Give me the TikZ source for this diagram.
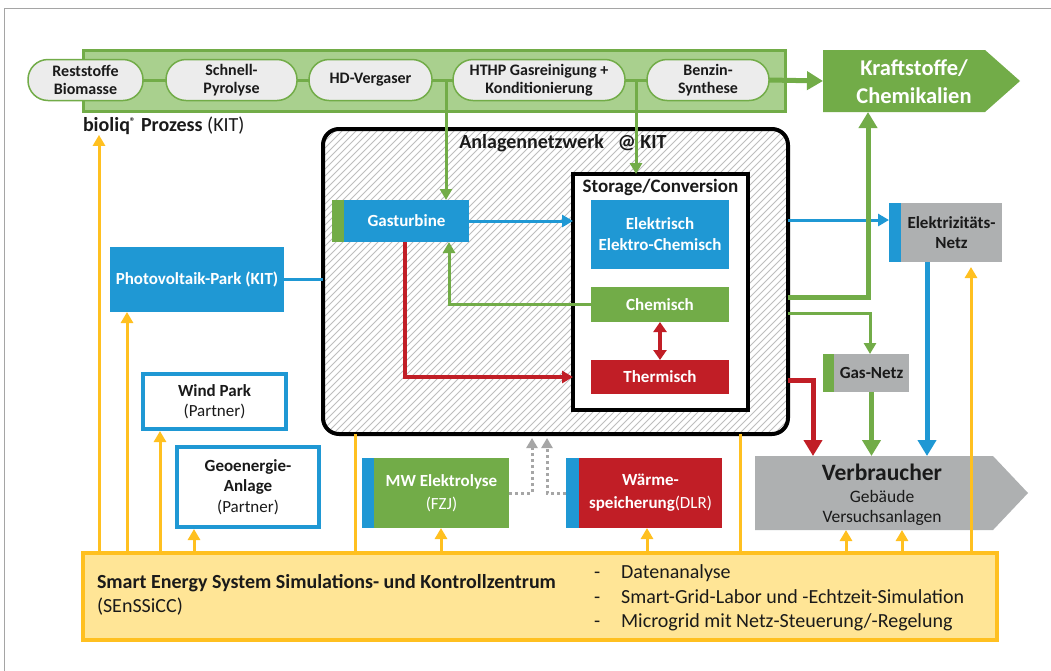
\documentclass[tikz,border=0pt]{standalone}
\usepackage{fontspec}
\setmainfont{Carlito}
\usetikzlibrary{arrows.meta,calc}
\definecolor{cblue}{RGB}{31,152,212}
\definecolor{cgreen}{RGB}{114,172,72}
\definecolor{clgreen}{RGB}{169,208,142}
\definecolor{cred}{RGB}{193,30,38}
\definecolor{cgray}{RGB}{174,176,177}
\definecolor{cyel}{RGB}{255,192,32}
\definecolor{cyelfill}{RGB}{255,229,150}
\definecolor{cpill}{RGB}{236,236,236}
\definecolor{ctext}{RGB}{26,26,26}
\definecolor{chatch}{RGB}{190,190,190}
\definecolor{cdot}{RGB}{166,166,166}
\definecolor{cframe}{RGB}{165,165,165}
\begin{document}
\begin{tikzpicture}[x=1pt,y=-1pt,
  every node/.style={inner sep=0pt, outer sep=0pt, text=ctext},
  pill/.style={draw=cgreen, line width=1.5pt, fill=cpill, rounded corners=20pt, minimum height=41pt, align=center, font=\fontsize{16}{18}\selectfont\bfseries},
  solidbox/.style={align=center, font=\fontsize{17}{21}\selectfont\bfseries, text=white},
  graybox/.style={align=center, font=\fontsize{17}{20}\selectfont\bfseries, fill=cgray},
  partner/.style={draw=cblue, fill=white, line width=3.5pt, align=center, font=\fontsize{17}{20.5}\selectfont},
  tip/.style={-{Triangle[width=12pt,length=11pt]}},
  bigtip/.style={-{Triangle[width=18pt,length=16pt]}},
  barrow/.style={draw=cblue, line width=3pt, tip},
  garrow/.style={draw=cgreen, line width=3pt, tip},
  rarrow/.style={draw=cred, line width=3.5pt, tip},
  barrowthick/.style={draw=cblue, line width=5pt, bigtip},
  garrowthick/.style={draw=cgreen, line width=5pt, bigtip},
  rarrowthick/.style={draw=cred, line width=5pt, bigtip},
  yarr/.style={draw=cyel, line width=3pt, tip},
  yline/.style={draw=cyel, line width=3pt},
  dotarr/.style={draw=cdot, line width=3pt, dash pattern=on 3pt off 3pt, -{Triangle[width=11pt,length=10pt]}},
]
\useasboundingbox (0,0) rectangle (1051,670);
\fill[white] (0,0) rectangle (1051,670);
\draw[cframe, line width=1pt] (4,690) -- (4,8) -- (1070,8);

% bioliq band
\node[draw=cgreen, fill=clgreen, line width=3pt, minimum width=702, minimum height=61] (band) at (434,80.5) {};
\coordinate (j1) at (446,80);
\coordinate (j2) at (636,80);
\node[pill, minimum width=115] (p1) at (85.5,80) {Reststoffe\\Biomasse};
\node[pill, minimum width=131] (p2) at (231.5,80) {Schnell-\\Pyrolyse};
\node[pill, minimum width=123] (p3) at (370.5,80) {HD-Vergaser};
\node[pill, minimum width=172] (p4) at (539,80) {HTHP Gasreinigung +\\Konditionierung};
\node[pill, minimum width=122] (p5) at (708,80) {Benzin-\\Synthese};
\draw[cgreen, line width=3pt] (p1.east) -- (p2.west) (p2.east) -- (p3.west) (p3.east) -- (p4.west) (p4.east) -- (p5.west);
\node[anchor=west, font=\fontsize{20}{22}\selectfont\bfseries] (bioliq) at (83,126) {bioliq\raisebox{6pt}{\fontsize{11}{11}\selectfont ®}\hspace{1pt} Prozess \mdseries(KIT)};

% Kraftstoffe
\node[minimum width=162, minimum height=62] (kraft) at (904,81) {};
\fill[cgreen] (kraft.north west) -- (kraft.north east) -- (1020,81) -- (kraft.south east) -- (kraft.south west) -- cycle;
\node[font=\fontsize{22.5}{28}\selectfont\bfseries, text=white, align=center] (krafttxt) at (914,82) {Kraftstoffe/\\Chemikalien};
\draw[garrowthick] (p5.east) -- (kraft.west);

% Anlagennetzwerk
\begin{scope}
  \clip[rounded corners=16pt] (323,129) rectangle (788,434);
  \foreach \a in {4,11,...,795} \draw[chatch, line width=1pt] (\a,434) -- ++(305,-305);
\end{scope}
\node[draw=black, line width=4pt, rounded corners=16pt, minimum width=465, minimum height=305] (anl) at (555.5,281.5) {};
\node[font=\fontsize{20}{22}\selectfont\bfseries] (anltitle) at (563,143) {Anlagennetzwerk\hspace{14pt}@ KIT};

\node[draw=black, fill=white, line width=3.5pt, minimum width=175, minimum height=236] (stor) at (660.5,292) {};
\node[font=\fontsize{19}{22}\selectfont\bfseries] (stortitle) at (660.5,187) {Storage/Conversion};
\node[fill=cblue, solidbox, minimum width=138, minimum height=69] (elk) at (660,234.5) {Elektrisch\\Elektro-Chemisch};
\node[fill=cgreen, solidbox, minimum width=138, minimum height=35] (chem) at (660,304.5) {Chemisch};
\node[fill=cred, solidbox, minimum width=138, minimum height=34] (therm) at (660,377) {Thermisch};

\node[fill=cblue, solidbox, minimum width=125, minimum height=42] (gas) at (406.5,221) {Gasturbine};
\fill[cgreen] (gas.north west) rectangle ([xshift=-12pt]gas.south west);

\draw[barrow] (gas.east) -- (gas.east -| stor.west);
\draw[garrow] (chem.west) -| ([xshift=42.5pt]gas.south);
\draw[rarrow] ([xshift=-1.5pt]gas.south) |- (stor.west |- therm.west);
\draw[draw=cred, line width=3.5pt, {Triangle[width=13pt,length=10pt]}-{Triangle[width=13pt,length=10pt]}] (chem.south) -- (therm.north);
\draw[garrow] (j1) -- (j1 |- gas.north);
\draw[garrow] (j2) -- (j2 |- stor.north);

% left side
\node[fill=cblue, solidbox, minimum width=174, minimum height=65] (pv) at (197,279.5) {Photovoltaik-Park (KIT)};
\draw[cblue, line width=3.5pt] (pv.east) -- (pv.east -| anl.west);
\node[partner, minimum width=143, minimum height=55] (wind) at (214.5,401.5) {\textbf{Wind Park}\\(Partner)};
\node[partner, minimum width=142, minimum height=80] (geo) at (248,487) {\textbf{Geoenergie-}\\\textbf{Anlage}\\(Partner)};

% bottom middle
\node[fill=cgreen, solidbox, font=\fontsize{17}{23}\selectfont\bfseries, minimum width=135, minimum height=70] (mw) at (441.5,493) {MW Elektrolyse\\\mdseries(FZJ)};
\fill[cblue] (mw.north west) rectangle ([xshift=-12pt]mw.south west);
\node[fill=cred, solidbox, font=\fontsize{17}{23}\selectfont\bfseries, minimum width=143, minimum height=70] (warm) at (650.5,493) {Wärme-\\speicherung\mdseries(DLR)};
\fill[cblue] (warm.north west) rectangle ([xshift=-13pt]warm.south west);
\draw[dotarr, shorten >=4pt] (mw.east) -| ([xshift=-23.5pt]anl.south);
\draw[dotarr, shorten >=4pt] ([xshift=-13pt]warm.west) -| ([xshift=-8.5pt]anl.south);

% right side
\node[graybox, minimum width=101, minimum height=59] (enet) at (951.5,232.5) {Elektrizitäts-\\Netz};
\fill[cblue] (enet.north west) rectangle ([xshift=-12pt]enet.south west);
\node[graybox, minimum width=75, minimum height=38] (gnet) at (871.5,373) {Gas-Netz};
\fill[cgreen] (gnet.north west) rectangle ([xshift=-11pt]gnet.south west);

\node[minimum width=238, minimum height=74] (verb) at (874,493) {};
\fill[cgray] (verb.north west) -- (verb.north east) -- (1028,493) -- (verb.south east) -- (verb.south west) -- cycle;
\node[font=\fontsize{23.5}{25}\selectfont\bfseries] (verbt) at (882,472) {Verbraucher};
\node[font=\fontsize{17.5}{20}\selectfont, align=center] (verbs) at (882,508) {Gebäude\\Versuchsanlagen};

\coordinate (e1) at (889,220);
\draw[barrow] (e1 -| anl.east) -- (e1);
\coordinate (g1) at (868,297);
\draw[garrowthick] (g1 -| anl.east) -- (g1) -- (g1 |- kraft.south);
\coordinate (g2) at (870,313);
\draw[garrow] (g2 -| anl.east) -- (g2) -- (g2 |- gnet.north);
\coordinate (r1) at (813,380);
\draw[rarrowthick] (r1 -| anl.east) -- (r1) -- (r1 |- verb.north);
\draw[garrowthick] (gnet.south) -- (gnet.south |- verb.north);
\draw[barrowthick] ([xshift=-24.5pt]enet.south) -- ([xshift=-24.5pt]enet.south |- verb.north);

% SEnSSiCC
\node[draw=cyel, fill=cyelfill, line width=4pt, minimum width=914, minimum height=87] (yel) at (540,596.5) {};
\node[anchor=west, font=\fontsize{20}{22}\selectfont\bfseries] (sest) at (97,583) {Smart Energy System Simulations- und Kontrollzentrum};
\node[anchor=west, font=\fontsize{20}{22}\selectfont] (sesa) at (97,607) {(SEnSSiCC)};
\node[anchor=west, align=left, font=\fontsize{20}{24.5}\selectfont] (bul) at (594,598) {-\hspace{21pt}Datenanalyse\\-\hspace{21pt}Smart-Grid-Labor und -Echtzeit-Simulation\\-\hspace{21pt}Microgrid mit Netz-Steuerung/-Regelung};

\coordinate (ya) at ([xshift=16pt]yel.north west);
\coordinate (yb) at ([xshift=44pt]yel.north west);
\coordinate (yc) at ([xshift=77pt]yel.north west);
\coordinate (yd) at ([xshift=111pt]yel.north west);
\coordinate (ye) at ([xshift=272pt]yel.north west);
\coordinate (yf) at ([xshift=358pt]yel.north west);
\coordinate (yg) at ([xshift=564pt]yel.north west);
\coordinate (yh) at ([xshift=657pt]yel.north west);
\coordinate (yi) at ([xshift=763pt]yel.north west);
\coordinate (yj) at ([xshift=819pt]yel.north west);
\coordinate (yk) at ([xshift=888pt]yel.north west);
\draw[yarr] (ya) -- (ya |- bioliq.south);
\draw[yarr] (yb) -- (yb |- pv.south);
\draw[yarr, shorten >=2pt] (yc) -- (yc |- wind.south);
\draw[yarr, shorten >=2pt] (yd) -- (yd |- geo.south);
\draw[yline] (ye) -- (ye |- anl.south);
\draw[yarr] (yf) -- (yf |- mw.south);
\draw[yarr] (yg) -- (yg |- warm.south);
\draw[yline] (yh) -- (yh |- anl.south);
\draw[yarr] (yi) -- (yi |- verb.south);
\draw[yarr] (yj) -- (yj |- verb.south);
\draw[yarr, shorten >=5pt] (yk) -- (yk |- enet.south);
\end{tikzpicture}
\end{document}
